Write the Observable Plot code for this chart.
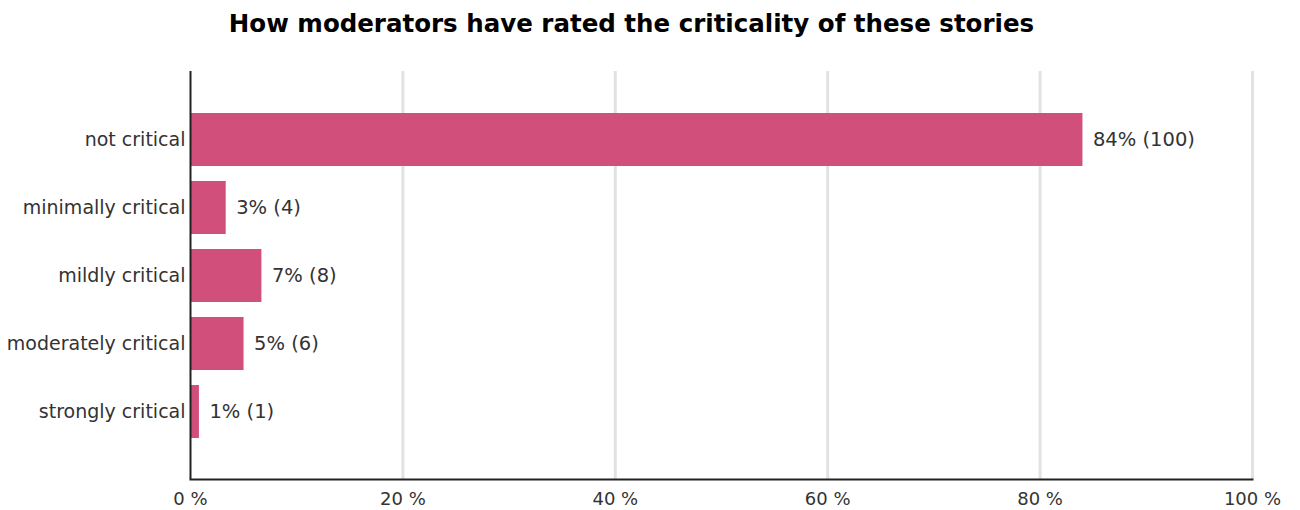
<!DOCTYPE html>
<html>
<head>
<meta charset="utf-8">
<script src="https://cdn.jsdelivr.net/npm/d3@7"></script>
<script src="https://cdn.jsdelivr.net/npm/@observablehq/plot@0.6"></script>
<style>
  html, body { margin: 0; padding: 0; background: #fff; }
  #title { position: relative; width: 1263px; height: 48px; box-sizing: border-box; padding-top: 10px; line-height: 28px;
    text-align: center; font-family: "DejaVu Sans", sans-serif; font-weight: bold; font-size: 24.5px; color: #000; }
  #chart svg { display: block; }
</style>
</head>
<body>
<div id="title">How moderators have rated the criticality of these stories</div>
<div id="chart"></div>
<script>
const categories = ["not critical", "minimally critical", "mildly critical", "moderately critical", "strongly critical"];
const counts = [100, 4, 8, 6, 1];
const xTicks = [0, 20, 40, 60, 80, 100];

const total = d3.sum(counts);
const data = categories.map((c, i) => ({category: c, count: counts[i], pct: counts[i] / total * 100}));

const chart = Plot.plot({
  width: 1300,
  height: 462,
  marginLeft: 190,
  marginRight: 48,
  marginTop: 23,
  marginBottom: 31,
  style: {fontFamily: "DejaVu Sans, sans-serif", fontSize: "19px", color: "#333", background: "#fff"},
  x: {domain: [0, 100], ticks: xTicks, tickFormat: d => `${d} %`, label: null},
  y: {domain: categories, paddingInner: 0.226, paddingOuter: 0.59, label: null},
  marks: [
    Plot.gridX(xTicks.filter(d => d > 0), {stroke: "#e2e2e2", strokeOpacity: 1, strokeWidth: 3}),
    Plot.barX(data, {x: "pct", y: "category", fill: "#d04f7b"}),
    Plot.text(data, {x: "pct", y: "category", text: d => `${Math.round(d.pct)}% (${d.count})`, textAnchor: "start", dx: 10, fill: "#333", fontSize: 19.5}),
    Plot.axisX({ticks: xTicks, tickFormat: d => `${d} %`, tickSize: 0, tickPadding: 13, fontSize: 18}),
    Plot.axisY({tickSize: 0, tickPadding: 5, fontSize: 19}),
    Plot.ruleX([0], {stroke: "#222", strokeWidth: 2}),
    Plot.frame({anchor: "bottom", stroke: "#222", strokeWidth: 2})
  ]
});
document.getElementById("chart").appendChild(chart);
</script>
</body>
</html>
